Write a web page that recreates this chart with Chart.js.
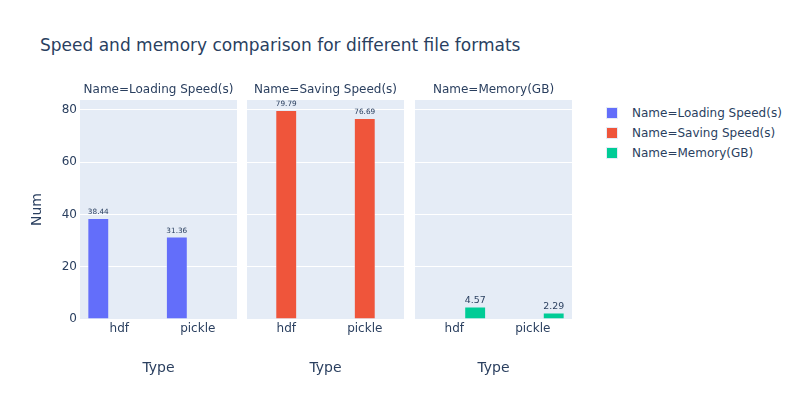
<!DOCTYPE html>
<html><head><meta charset="utf-8">
<script src="https://cdn.jsdelivr.net/npm/chart.js@4/dist/chart.umd.min.js"></script>
<style>
html,body{margin:0;padding:0;background:#fff;}
#wrap{position:relative;width:800px;height:400px;overflow:hidden;font-family:"DejaVu Sans",Verdana,sans-serif;color:#2a3f5f;}
.abs{position:absolute;}
canvas{display:block;}
.facet{position:absolute;font-size:12px;line-height:14px;text-align:center;white-space:nowrap;}
.leg{position:absolute;font-size:12px;line-height:14px;white-space:nowrap;}
.sw{position:absolute;width:12px;height:12px;box-sizing:border-box;border:0.5px solid #E5ECF6;}
</style></head><body>
<div id="wrap">
  <div id="title" class="abs" style="left:40px;top:34px;font-size:17px;line-height:22px;white-space:nowrap"></div>
  <div class="abs" style="left:0;top:80px;width:237px;height:320px"><canvas id="c0" width="237" height="320"></canvas></div>
  <div class="abs" style="left:247px;top:80px;width:157px;height:320px"><canvas id="c1" width="157" height="320"></canvas></div>
  <div class="abs" style="left:415px;top:80px;width:157px;height:320px"><canvas id="c2" width="157" height="320"></canvas></div>
  <div id="legend"></div>
</div>
<script>
const chartTitle = 'Speed and memory comparison for different file formats';
const categories = ['hdf', 'pickle'];
const seriesNames = ['Name=Loading Speed(s)', 'Name=Saving Speed(s)', 'Name=Memory(GB)'];
const loadingSpeed = [38.44, 31.36];
const savingSpeed = [79.79, 76.69];
const memoryGB = [4.57, 2.29];
const yTicks = [0, 20, 40, 60, 80];
const yMax = 83.8;
const xTitle = 'Type';
const yTitle = 'Num';

const seriesValues = [loadingSpeed, savingSpeed, memoryGB];
const colors = ['#636EFA', '#EF553B', '#00CC96'];
const ink = '#2a3f5f';
const FONT = '"DejaVu Sans", Verdana, sans-serif';

document.getElementById('title').textContent = chartTitle;

const bgPlugin = {
  id: 'plotBg',
  beforeDraw(chart) {
    const a = chart.chartArea, ctx = chart.ctx;
    ctx.save();
    ctx.fillStyle = '#E5ECF6';
    ctx.fillRect(a.left, a.top, a.right - a.left, a.bottom - a.top);
    ctx.restore();
  }
};

const valueLabels = {
  id: 'valueLabels',
  afterDatasetsDraw(chart) {
    const ctx = chart.ctx;
    chart.data.datasets.forEach((ds, di) => {
      const meta = chart.getDatasetMeta(di);
      meta.data.forEach((bar, i) => {
        const v = ds.data[i];
        if (v == null) return;
        const txt = String(v);
        ctx.save();
        ctx.font = '12px ' + FONT;
        const w = ctx.measureText(txt).width;
        let size = 12;
        if (w > bar.width) size = 12 * bar.width / w;
        ctx.font = size + 'px ' + FONT;
        ctx.fillStyle = ink;
        ctx.textAlign = 'center';
        ctx.textBaseline = 'alphabetic';
        ctx.fillText(txt, bar.x, bar.y - 3 - 0.15 * size);
        ctx.restore();
      });
    });
  }
};

const charts = [];
for (let f = 0; f < 3; f++) {
  const datasets = seriesNames.map((name, j) => ({
    label: name,
    data: j === f ? seriesValues[j].slice() : categories.map(() => null),
    backgroundColor: colors[j],
    borderColor: '#E5ECF6',
    borderWidth: 0.5,
    categoryPercentage: 0.8,
    barPercentage: 1.0
  }));
  const first = f === 0;
  const ch = new Chart(document.getElementById('c' + f), {
    type: 'bar',
    data: { labels: categories, datasets },
    options: {
      responsive: false,
      animation: false,
      devicePixelRatio: 1,
      layout: { padding: { top: 20, right: 0, bottom: 0, left: 0 } },
      plugins: { legend: { display: false }, tooltip: { enabled: false }, title: { display: false } },
      scales: {
        x: {
          grid: { display: false, drawTicks: false },
          border: { display: false },
          ticks: { color: ink, font: { family: FONT, size: 12 }, padding: 3, maxRotation: 0 },
          title: { display: true, text: xTitle, color: ink, font: { family: FONT, size: 14 }, padding: { top: 0, bottom: 23 } },
          afterFit(s) { s.height = 81; }
        },
        y: {
          min: 0, max: yMax,
          grid: { color: '#ffffff', lineWidth: 1, drawTicks: false },
          border: { display: false },
          afterBuildTicks(s) { s.ticks = yTicks.map(v => ({ value: v })); },
          ticks: { display: first, color: ink, font: { family: FONT, size: 12 }, padding: 3 },
          title: { display: first, text: yTitle, color: ink, font: { family: FONT, size: 14 }, padding: { top: 29, bottom: 0 } },
          afterFit(s) { s.width = first ? 80 : 0; }
        }
      }
    },
    plugins: [bgPlugin, valueLabels]
  });
  charts.push(ch);
}

// facet titles positioned from each chart's plot area
const wrap = document.getElementById('wrap');
charts.forEach((ch, f) => {
  const holder = ch.canvas.parentNode;
  const left = parseFloat(holder.style.left);
  const a = ch.chartArea;
  const d = document.createElement('div');
  d.className = 'facet';
  d.textContent = seriesNames[f];
  d.style.left = (left + a.left - 40) + 'px';
  d.style.width = (a.right - a.left + 80) + 'px';
  d.style.top = '82px';
  wrap.appendChild(d);
});

// legend
const legend = document.getElementById('legend');
seriesNames.forEach((name, j) => {
  const cy = 113 + j * 20;
  const sw = document.createElement('div');
  sw.className = 'sw';
  sw.style.left = '606px';
  sw.style.top = (cy - 6) + 'px';
  sw.style.background = colors[j];
  legend.appendChild(sw);
  const t = document.createElement('div');
  t.className = 'leg';
  t.textContent = name;
  t.style.left = '632px';
  t.style.top = (cy - 7) + 'px';
  legend.appendChild(t);
});
</script>
</body></html>
